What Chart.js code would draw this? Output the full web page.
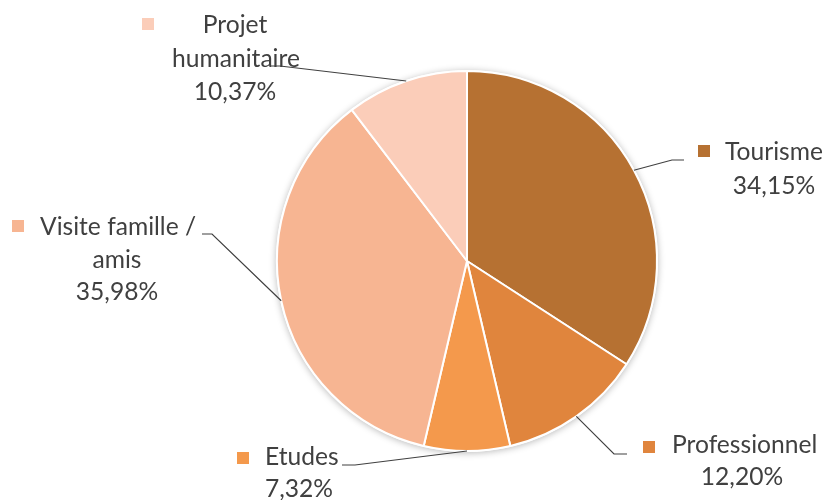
<!DOCTYPE html>
<html>
<head>
<meta charset="utf-8">
<script src="https://cdn.jsdelivr.net/npm/chart.js@4/dist/chart.umd.min.js"></script>
<style>
html,body{margin:0;padding:0;background:#fff;}
#wrap{width:828px;height:500px;position:relative;}
</style>
</head>
<body>
<div id="wrap"><canvas id="c" width="828" height="500"></canvas></div>
<script>
// ---- data ----
const categories = ['Tourisme', 'Professionnel', 'Etudes', 'Visite famille / amis', 'Projet humanitaire'];
const shares = [34.15, 12.20, 7.32, 35.98, 10.37];
const colors = ['#B67132', '#E0853D', '#F4994C', '#F7B592', '#FBCDB9'];

// ---- label layout (text wrapping & placement) ----
const labelLayout = [
  { marker: [698, 145], lines: [{t: 'Tourisme', x: 725, y: 160, a: 'left'}, {t: 'PCT', x: 774, y: 194, a: 'center'}],
    leader: [[672, 160], [684, 160]] },
  { marker: [643, 441], lines: [{t: 'Professionnel', x: 672, y: 453, a: 'left'}, {t: 'PCT', x: 742, y: 485, a: 'center'}],
    leader: [[614, 454], [627, 454]] },
  { marker: [237, 452], lines: [{t: 'Etudes', x: 265, y: 465, a: 'left'}, {t: 'PCT', x: 299, y: 497, a: 'center'}],
    leader: [[355, 465], [342, 465]] },
  { marker: [12, 220], lines: [{t: 'Visite famille /', x: 40, y: 235, a: 'left'}, {t: 'amis', x: 117, y: 268, a: 'center'}, {t: 'PCT', x: 117, y: 300, a: 'center'}],
    leader: [[212, 234], [202, 234]] },
  { marker: [142, 18], lines: [{t: 'Projet', x: 235, y: 33, a: 'center'}, {t: 'humanitaire', x: 236, y: 67, a: 'center'}, {t: 'PCT', x: 235, y: 100, a: 'center'}],
    leader: [[280, 66], [270, 66]] }
];

const fmtPct = v => v.toFixed(2).replace('.', ',') + '%';

const shadowPlugin = {
  id: 'pieShadow',
  beforeDatasetsDraw(chart) {
    const arc = chart.getDatasetMeta(0).data[0];
    if (!arc) return;
    const ctx = chart.ctx;
    ctx.save();
    ctx.shadowColor = 'rgba(0,0,0,0.28)';
    ctx.shadowBlur = 7;
    ctx.shadowOffsetY = 1;
    ctx.fillStyle = '#ffffff';
    ctx.beginPath();
    ctx.arc(arc.x, arc.y, arc.outerRadius + 1, 0, Math.PI * 2);
    ctx.fill();
    ctx.restore();
  }
};

const labelPlugin = {
  id: 'calloutLabels',
  afterDatasetsDraw(chart) {
    const ctx = chart.ctx;
    const meta = chart.getDatasetMeta(0);
    ctx.save();
    ctx.font = '100px Lato';
    const size = 100 * 145 / ctx.measureText('Professionnel').width;
    ctx.font = size.toFixed(1) + 'px Lato';
    meta.data.forEach((arc, i) => {
      const L = labelLayout[i];
      const p = arc.getProps(['x', 'y', 'startAngle', 'endAngle', 'outerRadius'], true);
      const mid = (p.startAngle + p.endAngle) / 2;
      const sx = p.x + Math.cos(mid) * p.outerRadius;
      const sy = p.y + Math.sin(mid) * p.outerRadius;
      // leader line
      ctx.strokeStyle = '#404040';
      ctx.lineWidth = 1.2;
      ctx.beginPath();
      ctx.moveTo(sx, sy);
      L.leader.forEach(pt => ctx.lineTo(pt[0], pt[1]));
      ctx.stroke();
      // marker
      ctx.fillStyle = colors[i];
      ctx.fillRect(L.marker[0], L.marker[1], 12, 12);
      // text
      ctx.fillStyle = '#404040';
      ctx.textBaseline = 'alphabetic';
      L.lines.forEach(ln => {
        ctx.textAlign = ln.a;
        ctx.fillText(ln.t === 'PCT' ? fmtPct(shares[i]) : ln.t, ln.x, ln.y);
      });
    });
    ctx.restore();
  }
};

new Chart(document.getElementById('c'), {
  type: 'pie',
  data: {
    labels: categories,
    datasets: [{
      data: shares,
      backgroundColor: colors,
      borderColor: '#ffffff',
      borderWidth: 2
    }]
  },
  options: {
    responsive: false,
    animation: false,
    devicePixelRatio: 1,
    layout: { padding: { left: 276, right: 170, top: 70, bottom: 48 } },
    plugins: {
      legend: { display: false },
      tooltip: { enabled: false }
    }
  },
  plugins: [shadowPlugin, labelPlugin]
});
</script>
</body>
</html>
